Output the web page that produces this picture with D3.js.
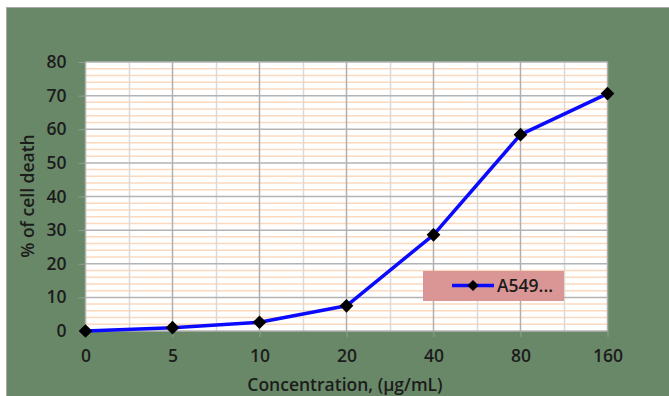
<!DOCTYPE html>
<html>
<head>
<meta charset="utf-8">
<script src="https://cdn.jsdelivr.net/npm/d3@7"></script>
<style>
  html, body { margin: 0; padding: 0; background: #ffffff; }
  svg { display: block; }
  text { font-family: "Open Sans", Lato, sans-serif; font-weight: 600; fill: #1c1c1c; }
</style>
</head>
<body>
<svg id="chart" width="669" height="396"></svg>
<script>
// Concentration categories (µg/mL) and measured cell death (%)
const concentrations = ["0", "5", "10", "20", "40", "80", "160"];
const cellDeath = [0, 1.0, 2.6, 7.5, 28.6, 58.4, 70.6];
const yTicks = [0, 10, 20, 30, 40, 50, 60, 70, 80];
const seriesName = "A549...";

const svg = d3.select("#chart");
const W = 669, H = 396;

// chart background panel
svg.append("rect").attr("x", 6.5).attr("y", 7.5).attr("width", W).attr("height", H)
  .attr("fill", "#698868").attr("stroke", "#a9a9a9").attr("stroke-width", 1);

const plot = { left: 85.5, right: 607.5, top: 62, bottom: 331 };

const x = d3.scalePoint().domain(concentrations).range([plot.left, plot.right]).padding(0);
const y = d3.scaleLinear().domain([0, 80]).range([plot.bottom, plot.top]);

// plot area
svg.append("rect").attr("x", plot.left).attr("y", plot.top)
  .attr("width", plot.right - plot.left).attr("height", plot.bottom - plot.top)
  .attr("fill", "#ffffff");

const grid = svg.append("g");

// minor horizontal gridlines every 2 units
grid.selectAll("line.hminor").data(d3.range(2, 80, 2).filter(v => v % 10 !== 0)).join("line")
  .attr("x1", plot.left).attr("x2", plot.right)
  .attr("y1", d => y(d)).attr("y2", d => y(d))
  .attr("stroke", "#fcd9bd").attr("stroke-width", 1.5);

// minor vertical gridlines midway between categories
const mids = d3.pairs(concentrations).map(([a, b]) => (x(a) + x(b)) / 2);
grid.selectAll("line.vminor").data(mids).join("line")
  .attr("x1", d => Math.round(d) + 0.5).attr("x2", d => Math.round(d) + 0.5)
  .attr("y1", plot.top).attr("y2", plot.bottom)
  .attr("stroke", "#d9d9d9").attr("stroke-width", 1.5);

// major horizontal gridlines
grid.selectAll("line.hmajor").data(yTicks).join("line")
  .attr("x1", plot.left).attr("x2", plot.right)
  .attr("y1", d => y(d)).attr("y2", d => y(d))
  .attr("stroke", "#b3b3b3").attr("stroke-width", 1.5);

// major vertical gridlines at categories
grid.selectAll("line.vmajor").data(concentrations).join("line")
  .attr("x1", d => x(d)).attr("x2", d => x(d))
  .attr("y1", plot.top).attr("y2", plot.bottom)
  .attr("stroke", "#b0b0b0").attr("stroke-width", 1.5);

// y axis
const yAxis = svg.append("g").attr("transform", `translate(${plot.left},0)`)
  .call(d3.axisLeft(y).tickValues(yTicks).tickSize(7).tickPadding(12));
yAxis.select(".domain").remove();
yAxis.selectAll(".tick line").attr("stroke", "#8fa08e");
yAxis.selectAll(".tick text").attr("font-size", 17.5).attr("font-family", null).attr("fill", "#1c1c1c");

// x axis
const xAxis = svg.append("g").attr("transform", `translate(0,${plot.bottom})`)
  .call(d3.axisBottom(x).tickSize(6).tickPadding(13));
xAxis.select(".domain").remove();
xAxis.selectAll(".tick line").attr("stroke", "#8fa08e");
xAxis.selectAll(".tick text").attr("font-size", 17.5).attr("font-family", null).attr("fill", "#1c1c1c");

// data line
const pts = concentrations.map((c, i) => [x(c), y(cellDeath[i])]);
svg.append("path").datum(pts)
  .attr("d", d3.line())
  .attr("fill", "none").attr("stroke", "#0a0aff").attr("stroke-width", 3.5)
  .attr("stroke-linejoin", "round");

const diamond = d3.symbol().type(d3.symbolDiamond2).size(120);
svg.selectAll("path.marker").data(pts).join("path")
  .attr("class", "marker")
  .attr("transform", d => `translate(${d[0]},${d[1]})`)
  .attr("d", diamond).attr("fill", "#000000");

// axis titles
svg.append("text").attr("x", 345).attr("y", 391)
  .attr("text-anchor", "middle").attr("font-size", 17.5)
  .text("Concentration, (µg/mL)");

svg.append("text").attr("transform", "translate(34,196) rotate(-90)")
  .attr("text-anchor", "middle").attr("font-size", 17.5)
  .text("% of cell death");

// legend
const lg = svg.append("g");
lg.append("rect").attr("x", 423).attr("y", 271).attr("width", 141).attr("height", 30)
  .attr("fill", "#d99694");
lg.append("line").attr("x1", 452).attr("x2", 494).attr("y1", 285.5).attr("y2", 285.5)
  .attr("stroke", "#0a0aff").attr("stroke-width", 3.5);
lg.append("path").attr("transform", "translate(473,285.5)")
  .attr("d", d3.symbol().type(d3.symbolDiamond2).size(80)).attr("fill", "#000");
lg.append("text").attr("x", 497).attr("y", 292).attr("font-size", 17.5).text(seriesName);
</script>
</body>
</html>
